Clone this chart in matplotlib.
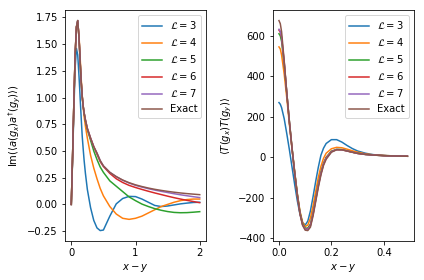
import matplotlib
matplotlib.use("Agg")
from matplotlib import pyplot as plt

# left panel: Im <a(gx) a^dag(gy)>
x_a = [0, 0.02, 0.04, 0.06, 0.08, 0.1, 0.12, 0.13, 0.14, 0.155, 0.17, 0.185, 0.2, 0.22, 0.25, 0.3, 0.35, 0.4, 0.45,
       0.5, 0.6, 0.7, 0.8, 0.9, 1.0, 1.1, 1.2, 1.3, 1.4, 1.5, 1.6, 1.7, 1.8, 1.9, 2.0]
a_L3 = [0, 0.42, 0.88, 1.28, 1.46, 1.40, 1.20, 1.09, 0.97, 0.80, 0.64, 0.52, 0.41, 0.29, 0.14, -0.03, -0.15, -0.22, -0.245,
        -0.24, -0.11, 0.005, 0.055, 0.075, 0.073, 0.05, 0.02, -0.01, -0.02, -0.015, -0.005, 0.005, 0.012, 0.018, 0.02]
a_L4 = [0, 0.45, 0.95, 1.40, 1.66, 1.70, 1.58, 1.47, 1.35, 1.17, 1.02, 0.91, 0.82, 0.73, 0.62, 0.46, 0.34, 0.24, 0.15,
        0.08, -0.02, -0.09, -0.13, -0.14, -0.13, -0.11, -0.08, -0.05, -0.02, 0.0, 0.02, 0.035, 0.045, 0.05, 0.05]
a_L5 = [0, 0.45, 0.95, 1.40, 1.66, 1.72, 1.56, 1.44, 1.31, 1.14, 1.01, 0.92, 0.855, 0.78, 0.70, 0.60, 0.50, 0.42, 0.35,
        0.30, 0.22, 0.17, 0.12, 0.07, 0.035, 0.003, -0.02, -0.04, -0.055, -0.067, -0.075, -0.078, -0.077, -0.073, -0.068]
a_L6 = [0, 0.45, 0.95, 1.40, 1.66, 1.72, 1.56, 1.44, 1.31, 1.14, 1.01, 0.92, 0.855, 0.79, 0.71, 0.62, 0.54, 0.47, 0.40,
        0.355, 0.29, 0.24, 0.205, 0.178, 0.158, 0.14, 0.123, 0.107, 0.092, 0.077, 0.063, 0.05, 0.038, 0.027, 0.016]
a_L7 = [0, 0.45, 0.95, 1.40, 1.66, 1.72, 1.56, 1.44, 1.31, 1.14, 1.01, 0.92, 0.855, 0.79, 0.71, 0.62, 0.54, 0.48, 0.41,
        0.36, 0.30, 0.26, 0.226, 0.20, 0.178, 0.162, 0.147, 0.134, 0.122, 0.111, 0.10, 0.09, 0.081, 0.072, 0.064]
a_exact = [0, 0.45, 0.95, 1.40, 1.66, 1.72, 1.56, 1.44, 1.31, 1.14, 1.01, 0.92, 0.855, 0.79, 0.71, 0.62, 0.54, 0.48, 0.41,
           0.36, 0.30, 0.26, 0.228, 0.203, 0.183, 0.167, 0.153, 0.141, 0.131, 0.122, 0.114, 0.107, 0.101, 0.096, 0.091]

# right panel: <T(gx) T(gy)>
x_t = [0, 0.005, 0.01, 0.02, 0.03, 0.04, 0.05, 0.06, 0.07, 0.08, 0.09, 0.1, 0.11, 0.12, 0.13,
       0.14, 0.15, 0.16, 0.17, 0.18, 0.2, 0.22, 0.24, 0.26, 0.28, 0.3, 0.33, 0.36, 0.4, 0.45, 0.49]
t_L3 = [270, 262, 245, 190, 115, 35, -50, -135, -215, -280, -322, -335, -315, -265, -195,
        -120, -50, 10, 45, 68, 87, 87, 75, 58, 43, 31, 20, 13, 9, 6, 5]
t_L4 = [545, 535, 505, 410, 290, 160, 40, -75, -180, -265, -320, -342, -335, -300, -240,
        -170, -100, -45, -5, 20, 42, 49, 47, 40, 32, 25, 17, 12, 9, 6, 5]
t_L5 = [610, 600, 572, 460, 315, 175, 45, -72, -180, -270, -328, -350, -350, -330, -275,
        -205, -135, -75, -30, 0, 30, 39, 38, 32, 25, 20, 14, 11, 8, 6, 5]
t_L6 = [628, 618, 590, 468, 315, 172, 42, -76, -185, -275, -332, -354, -354, -336, -280,
        -210, -140, -80, -33, -3, 28, 38, 37, 31, 25, 19, 14, 11, 8, 6, 5]
t_L7 = [632, 622, 595, 470, 314, 171, 41, -78, -187, -277, -333, -355, -356, -338, -283,
        -213, -143, -82, -35, -5, 27, 38, 37, 31, 25, 19, 14, 11, 8, 6, 5]
t_exact = [675, 660, 620, 475, 315, 170, 40, -80, -190, -280, -336, -360, -362, -345, -290,
           -220, -150, -88, -40, -10, 25, 37, 37, 31, 25, 19, 14, 11, 8, 6, 5]

labels = [r"$\mathcal{L} = 3$", r"$\mathcal{L} = 4$", r"$\mathcal{L} = 5$",
          r"$\mathcal{L} = 6$", r"$\mathcal{L} = 7$", "Exact"]

fig, (ax1, ax2) = plt.subplots(1, 2, figsize=(424 / 72, 280 / 72), dpi=72)

for y, lab in zip([a_L3, a_L4, a_L5, a_L6, a_L7, a_exact], labels):
    ax1.plot(x_a, y, label=lab)
ax1.set_xlabel(r"$x - y$")
ax1.set_ylabel(r"$\mathrm{Im}(\langle a(g_x)a^{\dagger}(g_y)\rangle)$")
ax1.legend(loc="upper right")

for y, lab in zip([t_L3, t_L4, t_L5, t_L6, t_L7, t_exact], labels):
    ax2.plot(x_t, y, label=lab)
ax2.set_xlabel(r"$x - y$")
ax2.set_ylabel(r"$\langle T(g_x)T(g_y)\rangle$")
ax2.legend(loc="upper right")

plt.subplots_adjust(left=0.153, right=0.976, top=0.964, bottom=0.139, wspace=0.47)
plt.savefig("out.png")
